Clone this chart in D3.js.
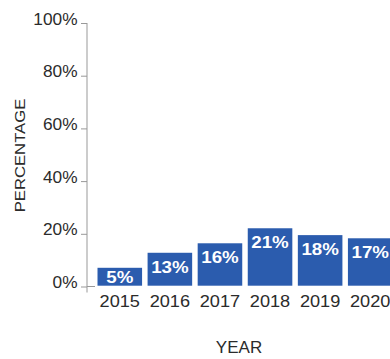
<!DOCTYPE html>
<html>
<head>
<meta charset="utf-8">
<script src="https://cdn.jsdelivr.net/npm/d3@7"></script>
<style>
  body { margin: 0; background: #fff; }
  svg { display: block; font-family: "Liberation Sans", Arial, sans-serif; }
</style>
</head>
<body>
<div id="chart"></div>
<script>
const years = ["2015", "2016", "2017", "2018", "2019", "2020"];
const labels = [5, 13, 16, 21, 18, 17];              // printed on bars
const barHeights = [7.1, 12.8, 16.4, 22.1, 19.5, 18.3]; // bar heights as drawn
const yTicks = [0, 20, 40, 60, 80, 100];

const width = 390, height = 359;
const svg = d3.select("#chart").append("svg")
    .attr("width", width)
    .attr("height", height);

const x = d3.scaleBand().domain(years).range([95, 395]).paddingInner(0.11).paddingOuter(0.05);
const y = d3.scaleLinear().domain([0, 100]).range([286.5, 23]);

// the lettering in the source is a bit wider than Arial, stretch it
const wide = (sel, px, py, sx) => sel.attr("transform", `translate(${px},${py}) scale(${sx},1)`);

// y axis
const yAxis = svg.append("g")
    .attr("transform", "translate(87,0)")
    .call(d3.axisLeft(y).tickValues(yTicks).tickFormat(d => d + "%").tickSize(6));
yAxis.select(".domain").remove();
yAxis.selectAll(".tick line").attr("stroke", "#999");
yAxis.selectAll(".tick text")
    .attr("x", null).attr("dy", null)
    .attr("fill", "#2b2b2b")
    .style("font-size", "16px")
    .style("font-family", "Liberation Sans, Arial, sans-serif")
    .each(function() { wide(d3.select(this), -9.5, 1, 1.08); });

svg.append("line")
    .attr("x1", 87).attr("x2", 87)
    .attr("y1", y(100)).attr("y2", y(0) + 6)
    .attr("stroke", "#999");
svg.append("line")
    .attr("x1", 87).attr("x2", x.range()[0])
    .attr("y1", y(0)).attr("y2", y(0))
    .attr("stroke", "#999");

// bars
svg.selectAll("rect.bar")
    .data(years)
    .join("rect")
    .attr("class", "bar")
    .attr("x", d => x(d))
    .attr("width", x.bandwidth())
    .attr("y", (d, i) => y(barHeights[i]))
    .attr("height", (d, i) => y(0) - 0.8 - y(barHeights[i]))
    .attr("fill", "#2b5cae");

svg.selectAll("text.val")
    .data(years)
    .join("text")
    .attr("class", "val")
    .attr("text-anchor", "middle")
    .attr("fill", "#fff")
    .style("font-size", "17px")
    .style("font-weight", "bold")
    .each(function(d, i) {
        wide(d3.select(this), x(d) + x.bandwidth() / 2,
             Math.min(y(barHeights[i]) + 20, y(0) - 3.5), 1.1);
    })
    .text((d, i) => labels[i] + "%");

// x labels
svg.selectAll("text.year")
    .data(years)
    .join("text")
    .attr("class", "year")
    .attr("text-anchor", "middle")
    .attr("fill", "#2b2b2b")
    .style("font-size", "16.5px")
    .each(function(d) { wide(d3.select(this), x(d) + x.bandwidth() / 2, 306.7, 1.1); })
    .text(d => d);

// axis titles
svg.append("text")
    .attr("text-anchor", "middle")
    .attr("fill", "#2b2b2b")
    .style("font-size", "17px")
    .call(wide, 239, 352.5, 1.0)
    .text("YEAR");

svg.append("text")
    .attr("transform", "translate(25,155.5) rotate(-90) scale(1.15,1)")
    .attr("text-anchor", "middle")
    .attr("fill", "#2b2b2b")
    .style("font-size", "14.5px")
    .text("PERCENTAGE");
</script>
</body>
</html>
